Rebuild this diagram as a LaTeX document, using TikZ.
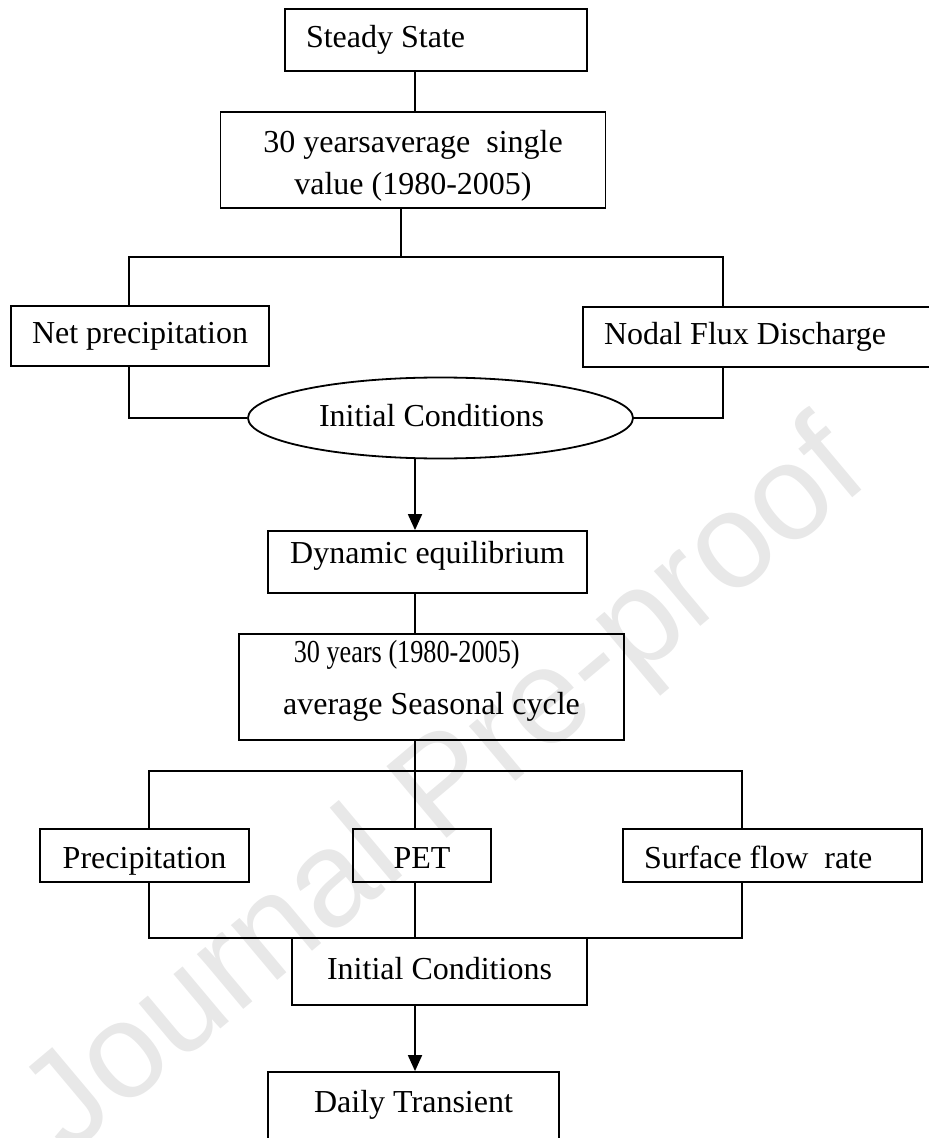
\documentclass[tikz,border=0pt]{standalone}
\usepackage{fontspec}
\usepackage{graphicx}
\setmainfont{Liberation Serif}
\newfontfamily\markfont{Liberation Sans}
\usetikzlibrary{shapes.geometric, arrows.meta}

\tikzset{
  twobox/.style={draw, line width=0.9pt, inner sep=0pt, align=center, font=\fontsize{16}{21}\selectfont},
  box/.style={twobox, text height=11pt, text depth=3pt},
  leftbox/.style={box, align=flush left, inner xsep=10.5pt},
  lowtext/.style={text height=14pt, text depth=1.5pt},
  link/.style={line width=0.9pt},
  flow/.style={link, -{Triangle[length=8pt, width=7pt]}}
}

\begin{document}
\begin{tikzpicture}[x=0.5pt, y=-0.5pt]
\useasboundingbox (0,0) rectangle (928,1138);

% watermark
\node[rotate=40, text=black!9, font=\markfont\fontsize{68}{68}\selectfont] (mark) at (448,792) {Journal Pre-proof};

% steady state part
\node[leftbox, minimum width=151pt, minimum height=31pt, text width=130pt] (steady) at (436,40) {Steady State};
\node[twobox, minimum width=192.5pt, minimum height=48pt, text height=36pt, text depth=1pt] (single) at (413,160) {30 yearsaverage\ \ single\\value (1980-2005)};
\node[box, minimum width=129pt, minimum height=30pt] (netp) at (140,336) {Net precipitation};
\node[leftbox, minimum width=176pt, minimum height=30pt, text width=155pt] (nodal) at (759,337) {Nodal Flux Discharge};
\node[draw, ellipse, line width=0.9pt, inner sep=0pt, minimum width=192.5pt, minimum height=40.5pt, text height=11pt, text depth=3pt, font=\fontsize{16}{21}\selectfont] (ic1) at (440.5,418) {Initial Conditions\rule{9pt}{0pt}};

% dynamic part
\node[box, minimum width=159.5pt, minimum height=31pt, text height=8pt, text depth=7pt] (dyn) at (427.5,562) {Dynamic equilibrium};
\node[twobox, minimum width=192.5pt, minimum height=53pt, text height=30pt, text depth=3pt, font=\fontsize{16}{26}\selectfont] (seas) at (431.5,687) {\makebox[137.7pt][l]{\scalebox{0.82}[1]{30 years (1980-2005)}}\\average Seasonal cycle};
\node[box, lowtext, minimum width=104.5pt, minimum height=26.5pt] (prec) at (144.5,855.5) {Precipitation};
\node[box, lowtext, minimum width=69pt, minimum height=26.5pt] (pet) at (422,855.5) {PET};
\node[leftbox, lowtext, minimum width=149.5pt, minimum height=26.5pt, text width=128.5pt] (surf) at (772.5,855.5) {Surface flow\ \ rate};
\node[box, minimum width=147.5pt, minimum height=33.5pt] (ic2) at (439.5,971.5) {Initial Conditions};
\node[box, minimum width=145.5pt, minimum height=38pt, text height=8pt, text depth=6pt] (daily) at (413.5,1110) {Daily Transient};

% bus points
\coordinate (spine) at (415,0);
\coordinate (split) at (401,257);
\coordinate (busL) at (129,257);
\coordinate (busR) at (723,257);
\coordinate (bus2L) at (149,771);
\coordinate (bus2R) at (742,771);
\coordinate (bus3L) at (149,938);
\coordinate (bus3R) at (742,938);

\begin{scope}[link]
\draw (spine |- steady.south) -- (spine |- single.north);
\draw (split |- single.south) -- (split);
\draw (busL |- netp.north) -- (busL) -- (busR) -- (busR |- nodal.north);
\draw (busL |- netp.south) |- (ic1);
\draw (busR |- nodal.south) |- (ic1);

\draw (spine |- dyn.south) -- (spine |- seas.north);
\draw (spine |- seas.south) -- (spine |- bus2L);
\draw (bus2L |- prec.north) -- (bus2L) -- (bus2R) -- (bus2R |- surf.north);
\draw (spine |- bus2L) -- (spine |- pet.north);
\draw (bus2L |- prec.south) -- (bus3L) -- (bus3R) -- (bus2R |- surf.south);
\draw (spine |- pet.south) -- (spine |- ic2.north);
\end{scope}

\draw[flow] (spine |- ic1.south) -- (spine |- dyn.north);
\draw[flow] (spine |- ic2.south) -- (spine |- daily.north);
\end{tikzpicture}
\end{document}
